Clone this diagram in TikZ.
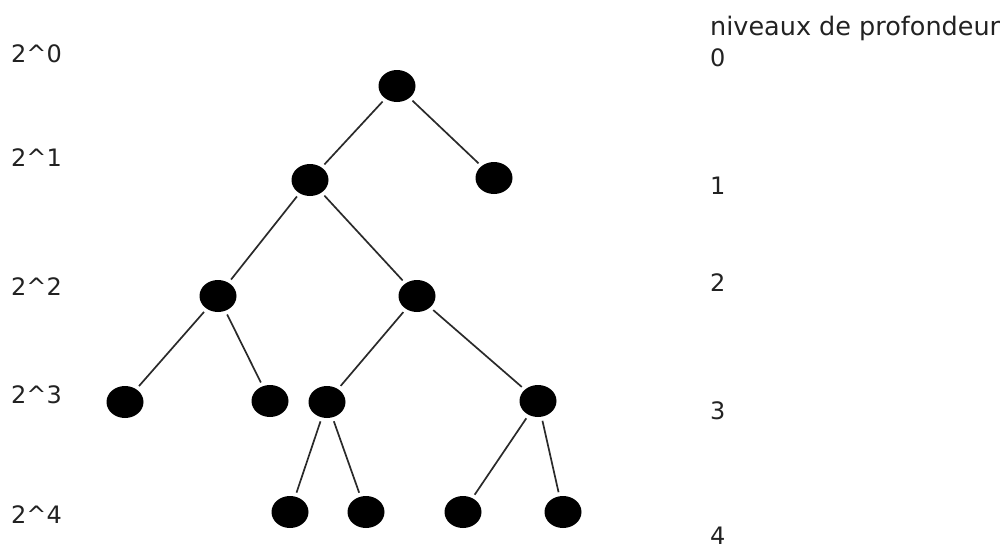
\documentclass[tikz,border=0pt]{standalone}
\usepackage{fontspec}
\setmainfont{DejaVu Sans}
\usetikzlibrary{shapes.geometric}
\definecolor{txt}{HTML}{222222}
\definecolor{edge}{HTML}{2A2A2A}
\begin{document}
\begin{tikzpicture}[x=1pt,y=-1pt,
  vert/.style={ellipse,fill=black,draw=none,minimum width=37pt,minimum height=32pt,inner sep=0pt},
  lbl/.style={anchor=base west,inner sep=0pt,text=txt,font=\fontsize{24}{28}\selectfont},
  link/.style={draw=edge,line width=1.7pt,shorten >=4pt,shorten <=4pt}]
\useasboundingbox (0,0) rectangle (1004,544);
% nodes
\node[vert] (r) at (397,86) {};
\node[vert] (a) at (310,180) {};
\node[vert] (b) at (494,178) {};
\node[vert] (c) at (218,296) {};
\node[vert] (d) at (417,296) {};
\node[vert] (e) at (125,402) {};
\node[vert] (f) at (270,401) {};
\node[vert] (g) at (327,402) {};
\node[vert] (h) at (538,401) {};
\node[vert] (i) at (290,512) {};
\node[vert] (j) at (366,512) {};
\node[vert] (k) at (463,512) {};
\node[vert] (l) at (563,512) {};
% edges
\draw[link] (r) -- (a);
\draw[link] (r) -- (b);
\draw[link] (a) -- (c);
\draw[link] (a) -- (d);
\draw[link] (c) -- (e);
\draw[link] (c) -- (f);
\draw[link] (d) -- (g);
\draw[link] (d) -- (h);
\draw[link] (g) -- (i);
\draw[link] (g) -- (j);
\draw[link] (h) -- (k);
\draw[link] (h) -- (l);
% left labels
\node[lbl] (p0) at (11,62.5) {2\textasciicircum 0};
\node[lbl] (p1) at (11,166) {2\textasciicircum 1};
\node[lbl] (p2) at (11,295) {2\textasciicircum 2};
\node[lbl] (p3) at (11,403) {2\textasciicircum 3};
\node[lbl] (p4) at (11,523) {2\textasciicircum 4};
% right labels
\node[lbl,font=\fontsize{25.5}{28}\selectfont] (title) at (710,35) {niveaux de profondeur};
\node[lbl] (n0) at (710,66) {0};
\node[lbl] (n1) at (710,194) {1};
\node[lbl] (n2) at (710,291) {2};
\node[lbl] (n3) at (710,419) {3};
\node[lbl] (n4) at (710,544) {4};
\end{tikzpicture}
\end{document}
